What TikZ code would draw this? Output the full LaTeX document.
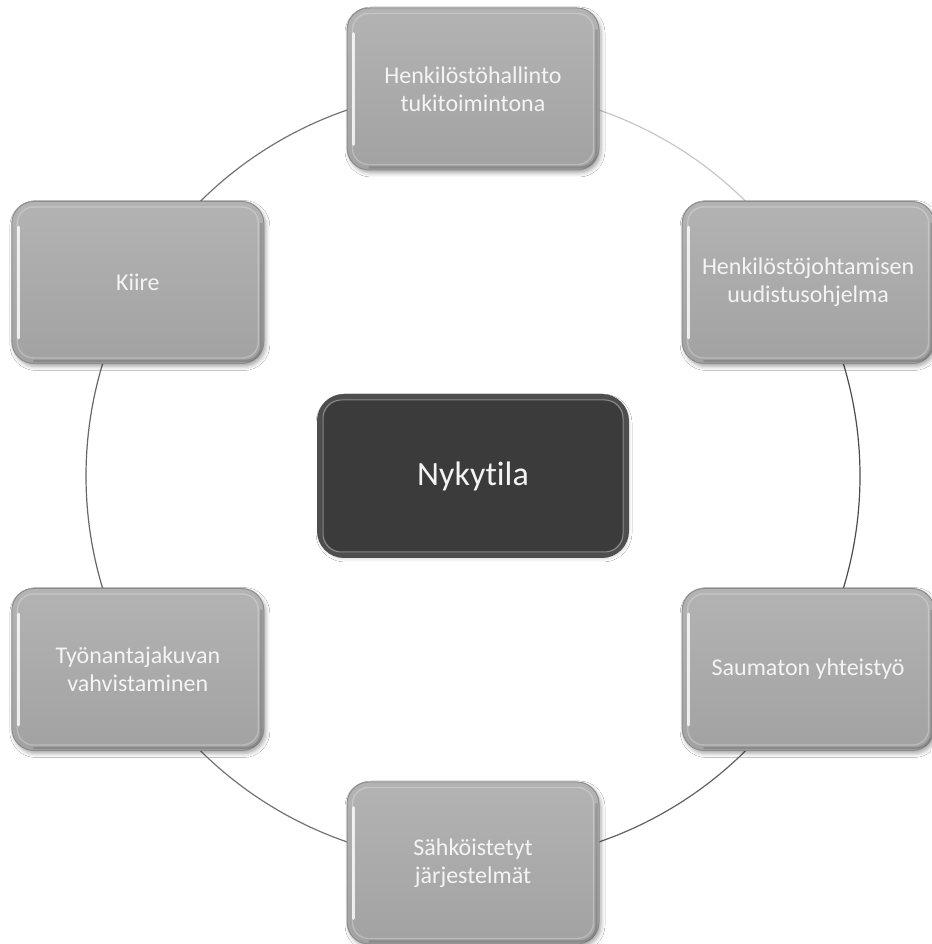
\documentclass[tikz,border=0pt]{standalone}
\usepackage{fontspec}
\setmainfont{Carlito}[Ligatures={NoCommon}]
\usetikzlibrary{shadows.blur}
\definecolor{boxtop}{HTML}{B3B3B3}
\definecolor{boxbot}{HTML}{A2A2A2}
\definecolor{boxedge}{HTML}{8C8C8C}
\definecolor{coredark}{HTML}{3B3B3B}
\definecolor{corering}{HTML}{4E4E4E}
\definecolor{labeltext}{HTML}{F4F4F4}
\begin{document}
\begin{tikzpicture}[x=1pt,y=1pt,
  ringbox/.style={rectangle, rounded corners=22pt, minimum width=252pt,
    minimum height=162pt, top color=boxtop, bottom color=boxbot,
    draw=boxedge, line width=1pt, text=labeltext, align=center,
    font=\fontsize{24}{28}\selectfont,
    blur shadow={shadow xshift=2pt, shadow yshift=-3pt,
      shadow blur radius=4pt, shadow opacity=35}},
  corebox/.style={rectangle, rounded corners=24pt, minimum width=306pt,
    minimum height=158pt, fill=coredark, draw=corering, line width=6pt,
    text=labeltext, font=\fontsize{34}{40}\selectfont,
    blur shadow={shadow xshift=1pt, shadow yshift=-2pt,
      shadow blur radius=5pt, shadow opacity=30}},
  arcline/.style={line width=1.2pt}]
\useasboundingbox (0,0) rectangle (931,944);
\fill[white] (0,0) rectangle (931,944);

\begin{scope}[shift={(473,468)}]
  % the ring behind the boxes
  \draw[arcline, color=black!22] (90:387) arc[start angle=90, end angle=30, radius=387];
  \draw[arcline, color=black!70] (30:387) arc[start angle=30, end angle=-30, radius=387];
  \draw[arcline, color=black!62] (-30:387) arc[start angle=-30, end angle=-90, radius=387];
  \draw[arcline, color=black!55] (-90:387) arc[start angle=-90, end angle=-150, radius=387];
  \draw[arcline, color=black!60] (210:387) arc[start angle=210, end angle=150, radius=387];
  \draw[arcline, color=black!55] (150:387) arc[start angle=150, end angle=90, radius=387];

  % boxes on the ring
  \node[ringbox] (hallinto) at (90:387) {Henkilöstöhallinto\\tukitoimintona};
  \node[ringbox] (uudistus) at (30:387) {Henkilöstöjohtamisen\\uudistusohjelma};
  \node[ringbox] (yhteistyo) at (-30:387) {Saumaton yhteistyö};
  \node[ringbox] (jarjestelmat) at (-90:387) {Sähköistetyt\\järjestelmät};
  \node[ringbox] (tyonantaja) at (210:387) {Työnantajakuvan\\vahvistaminen};
  \node[ringbox] (kiire) at (150:387) {Kiire};

  % central box
  \node[corebox] (nykytila) at (0,0) {Nykytila};
\end{scope}

% bevel highlights on the ring boxes
\foreach \b in {hallinto,uudistus,yhteistyo,jarjestelmat,tyonantaja,kiire}{
  \draw[white, opacity=0.25, line width=1.4pt, rounded corners=16pt]
    ([xshift=6pt,yshift=-6pt]\b.north west) rectangle ([xshift=-6pt,yshift=6pt]\b.south east);
  \draw[white, opacity=0.8, line width=2.6pt, line cap=round]
    ([xshift=7pt,yshift=-26pt]\b.north west) -- ([xshift=7pt,yshift=26pt]\b.south west);
  \draw[black, opacity=0.15, line width=2.4pt, rounded corners=16pt]
    ([xshift=-3pt,yshift=-22pt]\b.north east) -- ([xshift=-3pt,yshift=3pt]\b.south east) -- ([xshift=22pt,yshift=3pt]\b.south west);
}
% inner rim of the central box
\draw[white, opacity=0.35, line width=1pt, rounded corners=18pt]
  ([xshift=6pt,yshift=-6pt]nykytila.north west) rectangle ([xshift=-6pt,yshift=6pt]nykytila.south east);
\end{tikzpicture}
\end{document}
